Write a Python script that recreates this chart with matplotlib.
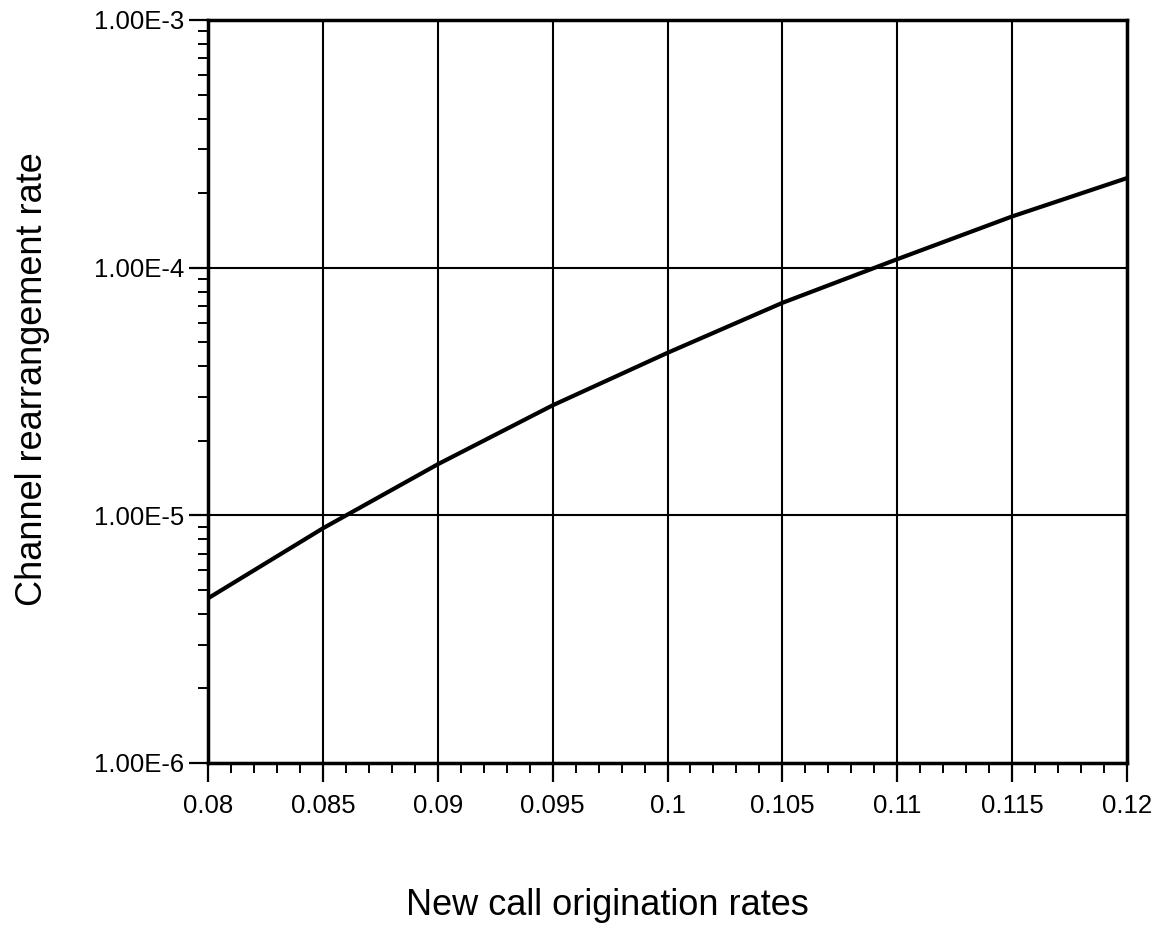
import matplotlib
matplotlib.use("Agg")
import matplotlib.pyplot as plt
from matplotlib.ticker import FixedLocator, LogLocator, MultipleLocator, NullFormatter

x_rates = [0.080, 0.085, 0.090, 0.095, 0.100, 0.105, 0.110, 0.115, 0.120]
rearrangement = [4.62e-6, 8.86e-6, 1.607e-5, 2.78e-5, 4.53e-5, 7.21e-5, 1.082e-4, 1.61e-4, 2.30e-4]
x_ticks = [0.08, 0.085, 0.09, 0.095, 0.1, 0.105, 0.11, 0.115, 0.12]
x_tick_labels = ["0.08", "0.085", "0.09", "0.095", "0.1", "0.105", "0.11", "0.115", "0.12"]
y_ticks = [1e-6, 1e-5, 1e-4, 1e-3]
y_tick_labels = ["1.00E-6", "1.00E-5", "1.00E-4", "1.00E-3"]

plt.rcParams['font.family'] = ['Liberation Sans', 'DejaVu Sans']

fig = plt.figure(figsize=(11.6, 9.3), dpi=100)
ax = fig.add_axes([0.1793, 0.1796, 0.9716 - 0.1793, 0.9785 - 0.1796])

ax.plot(x_rates, rearrangement, color='black', linewidth=3.0,
        solid_joinstyle='round', solid_capstyle='butt')
ax.set_yscale('log')
ax.set_xlim(0.08, 0.12)
ax.set_ylim(1e-6, 1e-3)

ax.xaxis.set_major_locator(FixedLocator(x_ticks))
ax.set_xticklabels(x_tick_labels)
ax.xaxis.set_minor_locator(MultipleLocator(0.001))
ax.yaxis.set_major_locator(FixedLocator(y_ticks))
ax.set_yticklabels(y_tick_labels)
ax.yaxis.set_minor_locator(LogLocator(base=10, subs=range(2, 10)))
ax.yaxis.set_minor_formatter(NullFormatter())

ax.grid(True, which='major', color='black', linewidth=1.5)
for s in ax.spines.values():
    s.set_linewidth(2.5)

ax.tick_params(axis='both', which='major', direction='out', length=14, width=1.6,
               labelsize=18.5, pad=8)
ax.tick_params(axis='both', which='minor', direction='out', length=7, width=1.4)
ax.tick_params(axis='y', which='major', pad=3)

ax.set_xlabel("New call origination rates", fontsize=26)
ax.set_ylabel("Channel rearrangement rate", fontsize=26)
ax.xaxis.label.set_verticalalignment('baseline')
ax.yaxis.label.set_verticalalignment('baseline')
ax.xaxis.set_label_coords(607.5 / 1160, 1 - 915 / 930, transform=fig.transFigure)
ax.yaxis.set_label_coords(42 / 1160, 1 - 379 / 930, transform=fig.transFigure)

fig.savefig("out.png", dpi=100, facecolor='white')
